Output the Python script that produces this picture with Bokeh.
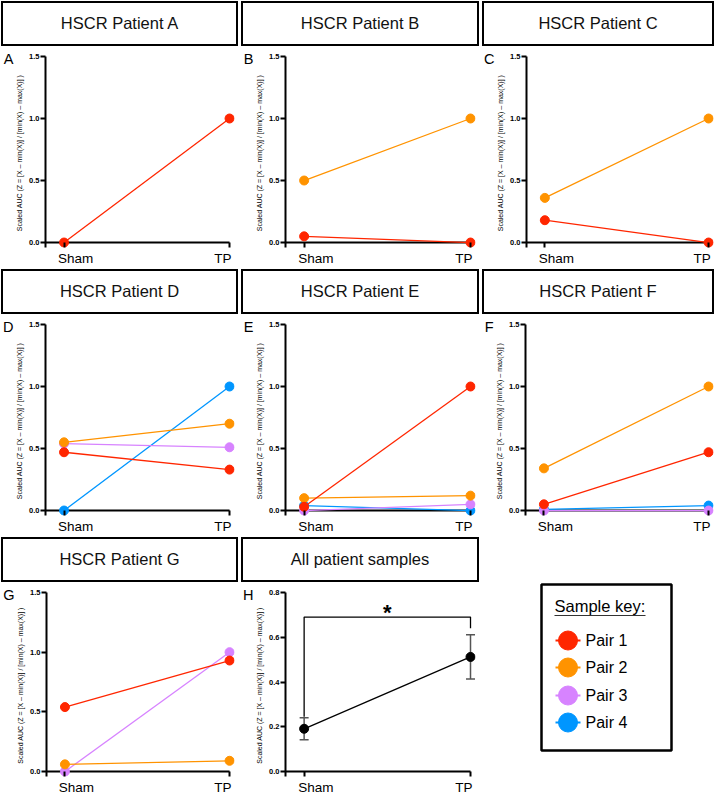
import numpy as np
from bokeh.plotting import figure
from bokeh.layouts import row, column
from bokeh.models import (Range1d, FixedTicker, NumeralTickFormatter, LinearAxis, Div,
                          ColumnDataSource, Whisker, TeeHead)
from bokeh.embed import file_html
from bokeh.resources import INLINE
from bokeh.core.properties import value

# ---------------- data ----------------
panel_titles = ["HSCR Patient A", "HSCR Patient B", "HSCR Patient C",
                "HSCR Patient D", "HSCR Patient E", "HSCR Patient F",
                "HSCR Patient G", "All patient samples"]
panel_letters = ["A", "B", "C", "D", "E", "F", "G", "H"]
conditions = ["Sham", "TP"]
pair_names = ["Pair 1", "Pair 2", "Pair 3", "Pair 4"]
pair_colors = ["#FF2600", "#FF9300", "#D783FF", "#0096FF"]

sham_A = [0.00]
tp_A = [1.00]
sham_B = [0.05, 0.50]
tp_B = [0.00, 1.00]
sham_C = [0.18, 0.36]
tp_C = [0.00, 1.00]
sham_D = [0.47, 0.55, 0.54, 0.00]
tp_D = [0.33, 0.70, 0.51, 1.00]
sham_E = [0.03, 0.10, 0.00, 0.04]
tp_E = [1.00, 0.12, 0.05, 0.00]
sham_F = [0.05, 0.34, 0.00, 0.01]
tp_F = [0.47, 1.00, 0.00, 0.04]
sham_G = [0.54, 0.06, 0.00]
tp_G = [0.93, 0.09, 1.00]

y_label = "Scaled AUC (Z =  [X \u2013 min(X)] / [min(X) \u2013 max(X)] )"
yticks_patient = [0.0, 0.5, 1.0, 1.5]
yticks_all = [0.0, 0.2, 0.4, 0.6, 0.8]

bracket_y = 0.69
bracket_left_end = 0.245
bracket_right_end = 0.64
star_y = 0.712
sig_label = "*"
legend_title = "Sample key:"

# ---------------- layout constants ----------------
FONT = "Liberation Sans"
COL_W = [240, 241, 235]
RIGHT_B = [6, 6, 3]
ROW_H = [268, 268, 261]
TITLE_H = 47
TOP_B, BOT_B, LEFT_B = 9, 20, 40
X_CAT = [0.0, 1.0]            # Sham, TP positions
X_LABEL_POS = [0.07, 0.96]    # where the category labels sit (Prism offsets them)
X_START, X_END = -0.112, 1.03


def title_div(text, w):
    html = ('<div style="box-sizing:border-box;width:%dpx;height:45px;border:2px solid #000;'
            'display:flex;align-items:center;justify-content:center;background:#fff;'
            'font-family:\'Liberation Sans\';font-size:16.5px;color:#111;">%s</div>') % (w, text)
    return Div(text=html, width=w, height=45, margin=(1, 2, 1, 1))


def panel_fig(letter, y_max, yticks, width, height, right_b):
    frame_h = height - TOP_B - BOT_B
    pad = 5.0 / (frame_h - 5.0)
    p = figure(width=width, height=height,
               x_range=Range1d(X_START, X_END), y_range=Range1d(-pad * y_max, y_max),
               output_backend="svg", toolbar_location=None,
               min_border_left=LEFT_B, min_border_right=right_b,
               min_border_top=TOP_B, min_border_bottom=BOT_B,
               outline_line_color=None,
               background_fill_color="white", border_fill_color="white")
    p.grid.visible = False

    # x axis line at y = 0, from the y axis to the last category
    p.segment(x0=[X_START], y0=[0], x1=[X_CAT[-1]], y1=[0], line_color="black", line_width=2,
              level="underlay")

    xa = p.xaxis[0]
    xa.ticker = FixedTicker(ticks=X_LABEL_POS, minor_ticks=X_CAT)
    xa.major_label_overrides = {X_LABEL_POS[0]: conditions[0], X_LABEL_POS[1]: conditions[1]}
    xa.axis_line_color = None
    xa.major_tick_line_color = None
    xa.major_tick_out = 0
    xa.major_tick_in = 0
    xa.minor_tick_in = 5
    xa.minor_tick_out = 0
    xa.minor_tick_line_width = 2
    xa.minor_tick_line_color = "black"
    xa.major_label_standoff = 3
    xa.major_label_text_font = FONT
    xa.major_label_text_font_size = "13.5px"
    xa.major_label_text_color = "black"

    ya = p.yaxis[0]
    ya.ticker = FixedTicker(ticks=yticks, minor_ticks=[])
    ya.formatter = NumeralTickFormatter(format="0.0")
    ya.axis_line_width = 2
    ya.axis_line_color = "black"
    ya.major_tick_out = 5
    ya.major_tick_in = 0
    ya.major_tick_line_width = 2
    ya.major_tick_line_color = "black"
    ya.major_label_standoff = 1
    ya.major_label_text_font = FONT
    ya.major_label_text_font_size = "7.5px"
    ya.major_label_text_font_style = "bold"
    ya.major_label_text_color = "black"
    ya.axis_label = y_label
    ya.axis_label_standoff = 3
    ya.axis_label_text_font = FONT
    ya.axis_label_text_font_size = "7px"
    ya.axis_label_text_font_style = "normal"
    ya.axis_label_text_color = "black"

    # panel letter, as the single label of an outer left axis near the top of the frame
    letter_pos = y_max * (1 - 3.0 / (frame_h - 5.0))
    la = LinearAxis(ticker=FixedTicker(ticks=[letter_pos], minor_ticks=[]),
                    major_label_overrides={letter_pos: letter},
                    axis_line_color=None, major_tick_line_color=None,
                    major_tick_out=0, major_tick_in=0, major_label_standoff=0,
                    major_label_text_font=FONT, major_label_text_font_size="14.5px",
                    major_label_text_color="black")
    p.add_layout(la, "left")
    return p


def patient_panel(idx, sham, tp, c, r):
    p = panel_fig(panel_letters[idx], 1.5, yticks_patient, COL_W[c], ROW_H[r] - TITLE_H, RIGHT_B[c])
    for i in reversed(range(len(sham))):
        ys = [sham[i], tp[i]]
        p.line(x=X_CAT, y=ys, line_color=pair_colors[i], line_width=1.3)
        p.scatter(x=X_CAT, y=ys, size=9, fill_color=pair_colors[i], line_color=pair_colors[i])
    return column(title_div(panel_titles[idx], COL_W[c] - 3), p, spacing=0)


patients = [(sham_A, tp_A), (sham_B, tp_B), (sham_C, tp_C), (sham_D, tp_D),
            (sham_E, tp_E), (sham_F, tp_F), (sham_G, tp_G)]
cols = [patient_panel(i, s, t, i % 3, i // 3) for i, (s, t) in enumerate(patients)]

# ---------------- panel H: all patient samples (mean +/- SEM) ----------------
all_sham = np.array(sum([s for s, _ in patients], []))
all_tp = np.array(sum([t for _, t in patients], []))
means = [all_sham.mean(), all_tp.mean()]
sems = [all_sham.std(ddof=1) / np.sqrt(len(all_sham)), all_tp.std(ddof=1) / np.sqrt(len(all_tp))]

pH = panel_fig(panel_letters[7], 0.8, yticks_all, COL_W[1], ROW_H[2] - TITLE_H, RIGHT_B[1])
err_src = ColumnDataSource(dict(x=X_CAT, upper=[m + e for m, e in zip(means, sems)],
                                lower=[m - e for m, e in zip(means, sems)]))
pH.add_layout(Whisker(source=err_src, base="x", upper="upper", lower="lower",
                      line_color="#555555", line_width=1.5,
                      upper_head=TeeHead(size=9, line_color="#555555", line_width=1.5),
                      lower_head=TeeHead(size=9, line_color="#555555", line_width=1.5)))
pH.line(x=X_CAT, y=means, line_color="black", line_width=1.3)
pH.scatter(x=X_CAT, y=means, size=9, fill_color="black", line_color="black")
pH.line(x=[X_CAT[0], X_CAT[0], X_CAT[1], X_CAT[1]],
        y=[bracket_left_end, bracket_y, bracket_y, bracket_right_end],
        line_color="black", line_width=1.3)
pH.text(x=[0.5], y=[star_y], text=[sig_label], text_align="center",
        text_baseline="alphabetic", text_font=value(FONT), text_font_style="bold",
        text_font_size="22px", text_color="black")
colH = column(title_div(panel_titles[7], COL_W[1] - 3), pH, spacing=0)

# ---------------- sample key (legend) ----------------
lw, lh = COL_W[2], ROW_H[2]
leg = figure(width=lw, height=lh,
             x_range=Range1d(LEFT_B, lw - RIGHT_B[2]), y_range=Range1d(lh - BOT_B, TOP_B),
             output_backend="svg", toolbar_location=None,
             x_axis_location=None, y_axis_location=None,
             min_border_left=LEFT_B, min_border_right=RIGHT_B[2],
             min_border_top=TOP_B, min_border_bottom=BOT_B,
             outline_line_color=None,
             background_fill_color="white", border_fill_color="white")
leg.grid.visible = False
BOX_L, BOX_R, BOX_T, BOX_B = 60, 190, 48, 214
leg.quad(left=[BOX_L], right=[BOX_R], top=[BOX_T], bottom=[BOX_B],
         fill_color=None, line_color="black", line_width=2.5)
leg.text(x=[BOX_L + 13], y=[BOX_T + 21], text=[legend_title], text_align="left",
         text_baseline="middle", text_font=value(FONT), text_font_size="16.5px",
         text_color="black")
leg.line(x=[BOX_L + 13, BOX_L + 104], y=[BOX_T + 31, BOX_T + 31], line_color="#333333",
         line_width=1.2)
item_y = [BOX_T + 56, BOX_T + 83, BOX_T + 111, BOX_T + 138]
for name, col, yy in zip(pair_names, pair_colors, item_y):
    leg.line(x=[BOX_L + 14, BOX_L + 39], y=[yy, yy], line_color=col, line_width=2)
    leg.scatter(x=[BOX_L + 26.5], y=[yy], size=19, fill_color=col, line_color=col)
    leg.text(x=[BOX_L + 44], y=[yy], text=[name], text_align="left", text_baseline="middle",
             text_font=value(FONT), text_font_size="16px", text_color="black")

layout = column(
    row(cols[0], cols[1], cols[2], spacing=0),
    row(cols[3], cols[4], cols[5], spacing=0),
    row(cols[6], colH, leg, spacing=0),
    spacing=0,
)

open("out.html", "w").write(file_html(layout, INLINE))
